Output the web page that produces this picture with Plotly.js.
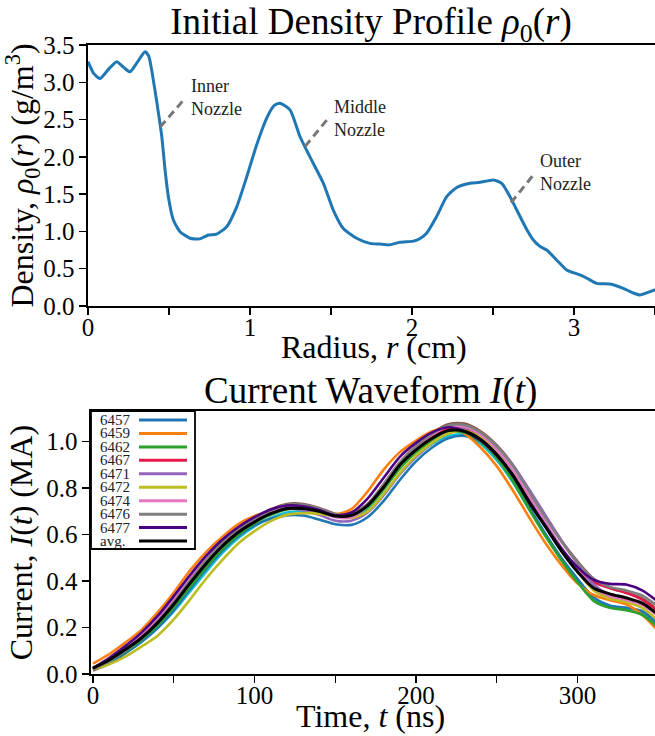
<!DOCTYPE html>
<html>
<head>
<meta charset="utf-8">
<script src="https://cdn.plot.ly/plotly-3.0.1.min.js"></script>
<style>
html, body { margin: 0; padding: 0; overflow: hidden; background: #fff; }
#chart { width: 680px; height: 736px; }
</style>
</head>
<body>
<div id="chart"></div>
<script>
// ---------- Data: initial density profile ----------
const radius = [0, 0.035, 0.074, 0.125, 0.177, 0.22, 0.259, 0.305, 0.352, 0.375, 0.393, 0.415, 0.434, 0.455, 0.476, 0.496, 0.527, 0.568, 0.63, 0.691, 0.72, 0.743, 0.794, 0.856, 0.918, 0.98, 1.041, 1.103, 1.15, 1.185, 1.247, 1.309, 1.37, 1.453, 1.514, 1.576, 1.658, 1.74, 1.80, 1.864, 1.926, 2.008, 2.05, 2.09, 2.152, 2.214, 2.276, 2.358, 2.42, 2.502, 2.554, 2.605, 2.667, 2.71, 2.749, 2.79, 2.831, 2.893, 2.955, 3.037, 3.09, 3.14, 3.222, 3.304, 3.36, 3.407, 3.469, 3.53];
const density = [3.277, 3.12, 3.05, 3.17, 3.276, 3.2, 3.14, 3.27, 3.41, 3.35, 3.165, 2.87, 2.6, 2.28, 1.82, 1.466, 1.153, 0.997, 0.908, 0.90, 0.93, 0.952, 0.965, 1.064, 1.33, 1.734, 2.16, 2.52, 2.69, 2.72, 2.63, 2.27, 2.0, 1.645, 1.287, 1.04, 0.908, 0.84, 0.83, 0.82, 0.855, 0.87, 0.905, 0.975, 1.2, 1.466, 1.59, 1.645, 1.658, 1.69, 1.645, 1.466, 1.2, 1.02, 0.885, 0.8, 0.751, 0.617, 0.483, 0.416, 0.36, 0.304, 0.295, 0.237, 0.18, 0.148, 0.192, 0.24];

// Nozzle annotations
const nozzleLabels = ["Inner<br>Nozzle", "Middle<br>Nozzle", "Outer<br>Nozzle"];
const nozzleTextR = [0.625, 1.506, 2.776];
const nozzleTextRho = [2.79, 2.52, 1.79];
const nozzleFromR = [0.445, 1.34, 2.611];
const nozzleFromRho = [2.40, 2.14, 1.385];
const nozzleToR = [0.599, 1.48, 2.749];
const nozzleToRho = [2.785, 2.51, 1.757];

// ---------- Data: current waveforms ----------
const time = [0,10,20,30,40,50,60,70,80,90,100,110,120,130,140,150,160,170,180,190,200,210,220,230,240,250,260,270,280,290,300,310,320,330,340,350];
const shotNames = ["6457","6459","6462","6467","6471","6472","6474","6476","6477","avg."];
const shotColors = ["#1f77b4","#ff7f0e","#2ca02c","#e6194b","#9467bd","#bcbd22","#e377c2","#7f7f7f","#4b0082","#000000"];

const i6457 = [0.02,0.05,0.09,0.138,0.198,0.275,0.365,0.452,0.53,0.594,0.64,0.668,0.683,0.682,0.665,0.645,0.642,0.675,0.745,0.835,0.915,0.975,1.015,1.025,1.0,0.935,0.84,0.72,0.605,0.5,0.41,0.33,0.295,0.285,0.27,0.215];
const i6459 = [0.045,0.085,0.135,0.19,0.265,0.35,0.445,0.525,0.59,0.645,0.68,0.70,0.712,0.708,0.698,0.688,0.71,0.785,0.88,0.955,1.005,1.045,1.058,1.035,0.975,0.895,0.79,0.675,0.565,0.47,0.39,0.34,0.318,0.30,0.255,0.185];
const i6462 = [0.02,0.055,0.098,0.148,0.21,0.288,0.375,0.46,0.538,0.6,0.648,0.685,0.708,0.712,0.702,0.685,0.682,0.718,0.795,0.885,0.955,1.005,1.04,1.04,1.0,0.93,0.83,0.71,0.595,0.49,0.395,0.315,0.285,0.275,0.255,0.2];
const i6467 = [0.025,0.062,0.108,0.16,0.228,0.31,0.40,0.485,0.558,0.617,0.66,0.695,0.718,0.718,0.705,0.683,0.688,0.73,0.812,0.905,0.97,1.02,1.055,1.055,1.02,0.955,0.865,0.755,0.645,0.54,0.455,0.395,0.37,0.35,0.32,0.27];
const i6471 = [0.025,0.07,0.118,0.172,0.242,0.325,0.415,0.498,0.568,0.622,0.665,0.695,0.713,0.705,0.685,0.66,0.66,0.695,0.77,0.86,0.935,0.995,1.04,1.06,1.035,0.98,0.9,0.795,0.685,0.575,0.475,0.385,0.34,0.32,0.3,0.25];
const i6472 = [0.02,0.042,0.075,0.118,0.165,0.235,0.32,0.41,0.49,0.562,0.615,0.658,0.685,0.692,0.69,0.678,0.672,0.70,0.775,0.865,0.94,0.995,1.035,1.048,1.018,0.958,0.872,0.762,0.65,0.54,0.445,0.36,0.325,0.31,0.285,0.23];
const i6474 = [0.025,0.068,0.117,0.172,0.242,0.325,0.417,0.5,0.57,0.625,0.668,0.70,0.72,0.718,0.702,0.675,0.675,0.725,0.815,0.91,0.975,1.03,1.065,1.065,1.03,0.965,0.875,0.765,0.655,0.545,0.45,0.37,0.335,0.32,0.298,0.25];
const i6476 = [0.02,0.055,0.1,0.155,0.225,0.308,0.4,0.488,0.565,0.625,0.67,0.705,0.728,0.728,0.712,0.688,0.69,0.73,0.815,0.91,0.98,1.035,1.07,1.072,1.04,0.98,0.895,0.785,0.675,0.57,0.48,0.41,0.375,0.36,0.338,0.29];
const i6477 = [0.025,0.068,0.12,0.178,0.25,0.335,0.425,0.508,0.578,0.633,0.675,0.708,0.725,0.722,0.706,0.683,0.695,0.755,0.845,0.935,0.995,1.04,1.062,1.045,1.005,0.94,0.855,0.745,0.64,0.54,0.46,0.405,0.388,0.385,0.36,0.31];
const iAvg  = [0.025,0.06,0.105,0.155,0.22,0.30,0.39,0.475,0.55,0.61,0.655,0.69,0.712,0.712,0.70,0.68,0.683,0.725,0.805,0.90,0.965,1.015,1.048,1.045,1.01,0.945,0.855,0.74,0.635,0.53,0.44,0.37,0.345,0.328,0.305,0.255];
// two further shots drawn without a legend entry
const extraColors = ["#17becf", "#8c564b"];
const iCyan  = [0.022,0.052,0.093,0.14,0.198,0.27,0.355,0.44,0.52,0.585,0.635,0.672,0.695,0.702,0.695,0.68,0.675,0.705,0.775,0.862,0.935,0.99,1.025,1.03,0.99,0.92,0.825,0.71,0.6,0.495,0.405,0.325,0.292,0.285,0.268,0.21];
const iBrown = [0.015,0.045,0.09,0.15,0.222,0.305,0.397,0.485,0.562,0.625,0.672,0.708,0.732,0.732,0.715,0.69,0.69,0.732,0.818,0.912,0.982,1.038,1.075,1.078,1.045,0.985,0.9,0.79,0.68,0.575,0.485,0.41,0.37,0.35,0.325,0.275];

const shotSeries = [i6457, i6459, i6462, i6467, i6471, i6472, i6474, i6476, i6477, iAvg];

// ---------- Layout geometry (pixels) ----------
const W = 680, H = 736;
const topBox = {l: 88, r: 660, t: 45, b: 306};
const botBox = {l: 91, r: 660, t: 411, b: 674};
const FONT = "Liberation Serif, Times New Roman, serif";

function dom(box) {
  return {x: [box.l / W, box.r / W], y: [1 - box.b / H, 1 - box.t / H]};
}
const dTop = dom(topBox), dBot = dom(botBox);
function fx(px) { return (px - botBox.l) / (botBox.r - botBox.l); }
function fy(py) { return (botBox.b - py) / (botBox.b - botBox.t); }

// ---------- Traces ----------
const traces = [];
traces.push({
  x: radius, y: density, type: "scatter", mode: "lines", name: "ρ0(r)",
  line: {color: "#1f77b4", width: 3, shape: "spline", smoothing: 0.6},
  xaxis: "x", yaxis: "y", showlegend: false
});
function addShot(y, color, width, name) {
  traces.push({
    x: time, y: y, type: "scatter", mode: "lines", name: name,
    line: {color: color, width: width, shape: "spline", smoothing: 0.8},
    xaxis: "x2", yaxis: "y2", showlegend: false
  });
}
addShot(iCyan, extraColors[0], 2.6, "extra 1");
addShot(iBrown, extraColors[1], 2.6, "extra 2");
for (let k = 0; k < shotSeries.length; k++) {
  addShot(shotSeries[k], shotColors[k], k === shotSeries.length - 1 ? 3 : 2.6, shotNames[k]);
}

// ---------- Shapes & annotations ----------
const shapes = [];
const annotations = [];
for (let k = 0; k < nozzleLabels.length; k++) {
  shapes.push({
    type: "line", xref: "x", yref: "y",
    x0: nozzleFromR[k], y0: nozzleFromRho[k], x1: nozzleToR[k], y1: nozzleToRho[k],
    line: {color: "#777777", width: 3, dash: "8px,5px"}
  });
  annotations.push({
    xref: "x", yref: "y", x: nozzleTextR[k], y: nozzleTextRho[k], text: nozzleLabels[k],
    xanchor: "left", yanchor: "middle", align: "left", showarrow: false,
    font: {family: FONT, size: 18, color: "#222"}
  });
}

// axis titles along x, and second panel title
annotations.push({
  xref: "paper", yref: "paper", x: 374 / W, y: 1 - 347 / H,
  text: "Radius, <i>r</i> (cm)", showarrow: false, xanchor: "center", yanchor: "middle",
  font: {family: FONT, size: 32, color: "#000"}
});
annotations.push({
  xref: "paper", yref: "paper", x: 371 / W, y: 1 - 391 / H,
  text: "Current Waveform <i>I</i>(<i>t</i>)", showarrow: false,
  xanchor: "center", yanchor: "middle",
  font: {family: FONT, size: 37, color: "#000"}
});
annotations.push({
  xref: "paper", yref: "paper", x: 371 / W, y: 1 - 716 / H,
  text: "Time, <i>t</i> (ns)", showarrow: false, xanchor: "center", yanchor: "middle",
  font: {family: FONT, size: 32, color: "#000"}
});

// legend (text left, sample line right)
shapes.push({
  type: "rect", xref: "x2 domain", yref: "y2 domain",
  x0: fx(91), x1: fx(195), y0: fy(549), y1: fy(411),
  fillcolor: "#ffffff", line: {color: "#000", width: 1.8}, layer: "above"
});
for (let k = 0; k < shotNames.length; k++) {
  const py = 420 + k * 13.45;
  shapes.push({
    type: "line", xref: "x2 domain", yref: "y2 domain",
    x0: fx(139), x1: fx(187), y0: fy(py), y1: fy(py),
    line: {color: shotColors[k], width: 3}, layer: "above"
  });
  annotations.push({
    xref: "x2 domain", yref: "y2 domain", x: fx(98), y: fy(py),
    text: shotNames[k], showarrow: false, xanchor: "left", yanchor: "middle",
    font: {family: FONT, size: 15, color: "#222"}
  });
}

const axisCommon = {
  showgrid: false, zeroline: false, showline: true, linecolor: "#000", linewidth: 1.6,
  ticks: "outside", ticklen: 7, tickwidth: 1.4, tickcolor: "#000",
  tickfont: {family: FONT, size: 25, color: "#000"}, mirror: true
};

const layout = {
  width: W, height: H,
  margin: {l: 0, r: 0, t: 0, b: 0},
  paper_bgcolor: "#fff", plot_bgcolor: "#fff",
  showlegend: false,
  font: {family: FONT, color: "#000"},
  title: {
    text: "Initial Density Profile <i>ρ</i><sub>0</sub>(<i>r</i>)",
    font: {family: FONT, size: 37, color: "#000"},
    x: 371 / W, xanchor: "center", xref: "paper",
    y: 1 - 21 / H, yanchor: "middle", yref: "container"
  },
  xaxis: Object.assign({}, axisCommon, {
    domain: dTop.x, anchor: "y",
    range: [0, (topBox.r - topBox.l) / 162],
    tickvals: [0, 1, 2, 3], ticktext: ["0", "1", "2", "3"], ticklabelstandoff: -9,
    minor: {dtick: 0.5, tick0: 0, ticks: "outside", ticklen: 7, tickwidth: 1.4, tickcolor: "#000"}
  }),
  yaxis: Object.assign({}, axisCommon, {
    domain: dTop.y, anchor: "x",
    range: [0, 3.5], dtick: 0.5, tick0: 0, tickformat: ".1f",
    title: {text: "Density, <i>ρ</i><sub>0</sub>(<i>r</i>) (g/m<sup>3</sup>)", font: {family: FONT, size: 32, color: "#000"}, standoff: 4}
  }),
  xaxis2: Object.assign({}, axisCommon, {
    domain: dBot.x, anchor: "y2",
    range: [-(93 - botBox.l) / 1.615, (botBox.r - 93) / 1.615],
    tickvals: [0, 100, 200, 300], ticktext: ["0", "100", "200", "300"], ticklabelstandoff: -9,
    minor: {dtick: 50, tick0: 0, ticks: "outside", ticklen: 7, tickwidth: 1.4, tickcolor: "#000"}
  }),
  yaxis2: Object.assign({}, axisCommon, {
    domain: dBot.y, anchor: "x2",
    range: [0, (botBox.b - botBox.t) / 232.3], dtick: 0.2, tick0: 0, tickformat: ".1f",
    title: {text: "Current, <i>I</i>(<i>t</i>) (MA)", font: {family: FONT, size: 32, color: "#000"}, standoff: 4}
  }),
  shapes: shapes,
  annotations: annotations
};

Plotly.newPlot("chart", traces, layout, {displayModeBar: false, staticPlot: true});
</script>
</body>
</html>
